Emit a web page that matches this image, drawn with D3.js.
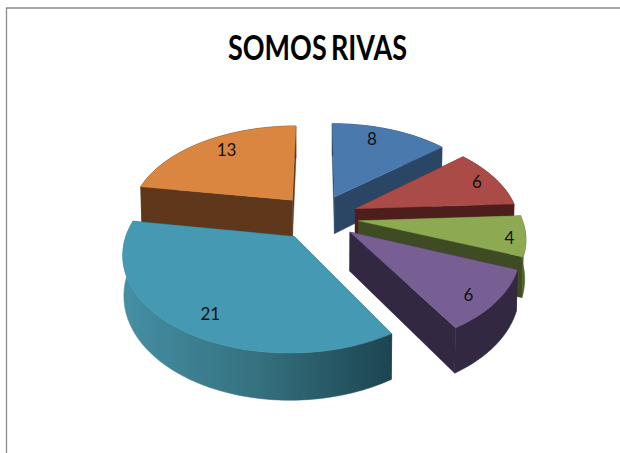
<!DOCTYPE html>
<html>
<head>
<meta charset="utf-8">
<script src="https://cdn.jsdelivr.net/npm/d3@7/dist/d3.min.js"></script>
<style>
  html, body { margin: 0; padding: 0; background: #fff; }
  svg { display: block; }
</style>
</head>
<body>
<div id="chart"></div>
<script>
var svgWidth = 620;
var svgHeight = 453;

// data
var title = "SOMOS RIVAS";
var values = [8, 6, 4, 6, 21, 13];

// colours for each slice
var topColors = ["#4a79ae", "#ab4b48", "#8daa53", "#775e93", "#4599b2", "#da8640"];
var wallColors = ["#2b4665", "#4d1e1c", "#3f4b23", "#332842", "#1f4c59", "#5f381b"];
var arcColors = ["#2b4665", "#4d1e1c", "#4f6127", "#332842", "url(#tealSide)", "#5f381b"];

// where the labels sit inside each slice (radius fraction, degrees off the middle)
var labelRadius = [0.82, 0.87, 0.905, 0.855, 0.82, 0.80];
var labelShift = [-5, 0, 2, 3, -3, 4];

// 3d look
var explode = 0.25;
var perspective = 0.16;
var thickness = 38;

var xScale = d3.scaleLinear().domain([-1, 1]).range([318 - 163, 318 + 163]);
var yScale = d3.scaleLinear().domain([-1, 1]).range([217 + 91, 217 - 91]);

var svg = d3.select("#chart")
  .append("svg")
  .attr("width", svgWidth)
  .attr("height", svgHeight);

var gradient = svg.append("defs").append("linearGradient")
  .attr("id", "tealSide")
  .attr("gradientUnits", "userSpaceOnUse")
  .attr("x1", 122).attr("x2", 391)
  .attr("y1", 0).attr("y2", 0);
gradient.append("stop").attr("offset", 0).attr("stop-color", "#458fa5");
gradient.append("stop").attr("offset", 0.5).attr("stop-color", "#35717f");
gradient.append("stop").attr("offset", 1).attr("stop-color", "#1c4551");

// outer frame, only top and left show
svg.append("path")
  .attr("d", d3.line()([[620, 8], [6.5, 8], [6.5, 453]]))
  .attr("fill", "none")
  .attr("stroke", "#8c8c8c")
  .attr("stroke-width", 1.3);

svg.append("text")
  .attr("x", 317.5)
  .attr("y", 60)
  .attr("text-anchor", "middle")
  .attr("textLength", 179)
  .attr("lengthAdjust", "spacingAndGlyphs")
  .style("font-family", "Lato, 'Open Sans', sans-serif")
  .style("font-weight", 700)
  .style("font-size", "35px")
  .style("word-spacing", "-3px")
  .style("fill", "#000")
  .text(title);

// ground plane point to screen, z = 1 is the underside of the pie
function project(x, y, z) {
  var s = 1 / (1 + perspective * y);
  var squeeze = 1 - 0.006 * z;
  return [
    xScale(x * s * squeeze),
    yScale(y * s) + z * thickness * s
  ];
}

var pie = d3.pie().sort(null);
var slices = pie(values);

function polygon(points) {
  return d3.line()(points) + "Z";
}

// painter's order, back slices first
var drawOrder = [5, 0, 1, 2, 3, 4];

var chartGroup = svg.append("g");

drawOrder.forEach(function (i) {
  var d = slices[i];
  var mid = (d.startAngle + d.endAngle) / 2;
  var ax = explode * Math.sin(mid);
  var ay = explode * Math.cos(mid);
  var angles = d3.range(0, 41).map(function (k) {
    return d.startAngle + (d.endAngle - d.startAngle) * k / 40;
  });
  var rim = angles.map(function (a) {
    return [ax + Math.sin(a), ay + Math.cos(a)];
  });
  var first = rim[0];
  var last = rim[rim.length - 1];
  var g = chartGroup.append("g");

  // the two flat walls
  [first, last].forEach(function (p) {
    var wall = [
      project(ax, ay, 0), project(p[0], p[1], 0),
      project(p[0], p[1], 1), project(ax, ay, 1)
    ];
    g.append("path")
      .attr("d", polygon(wall))
      .attr("fill", wallColors[i])
      .attr("stroke", wallColors[i])
      .attr("stroke-width", 0.4);
  });

  // curved outer wall
  var upper = rim.map(function (p) { return project(p[0], p[1], 0); });
  var lower = rim.map(function (p) { return project(p[0], p[1], 1); }).reverse();
  g.append("path")
    .attr("d", polygon(upper.concat(lower)))
    .attr("fill", arcColors[i])
    .attr("stroke", arcColors[i])
    .attr("stroke-width", 0.6);

  // top face
  var face = [project(ax, ay, 0)].concat(upper);
  g.append("path")
    .attr("d", polygon(face))
    .attr("fill", topColors[i])
    .attr("stroke", topColors[i])
    .attr("stroke-width", 0.4);
});

// value labels
chartGroup.selectAll("text")
  .data(slices)
  .enter()
  .append("text")
  .attr("transform", function (d, i) {
    var mid = (d.startAngle + d.endAngle) / 2;
    var a = mid + labelShift[i] * Math.PI / 180;
    var p = project(
      explode * Math.sin(mid) + labelRadius[i] * Math.sin(a),
      explode * Math.cos(mid) + labelRadius[i] * Math.cos(a),
      0
    );
    return "translate(" + p[0] + "," + p[1] + ")";
  })
  .attr("dy", "0.36em")
  .attr("text-anchor", "middle")
  .style("font-family", "Lato, 'Open Sans', sans-serif")
  .style("font-size", "17px")
  .style("fill", "#111")
  .text(function (d) { return d.data; });
</script>
</body>
</html>
